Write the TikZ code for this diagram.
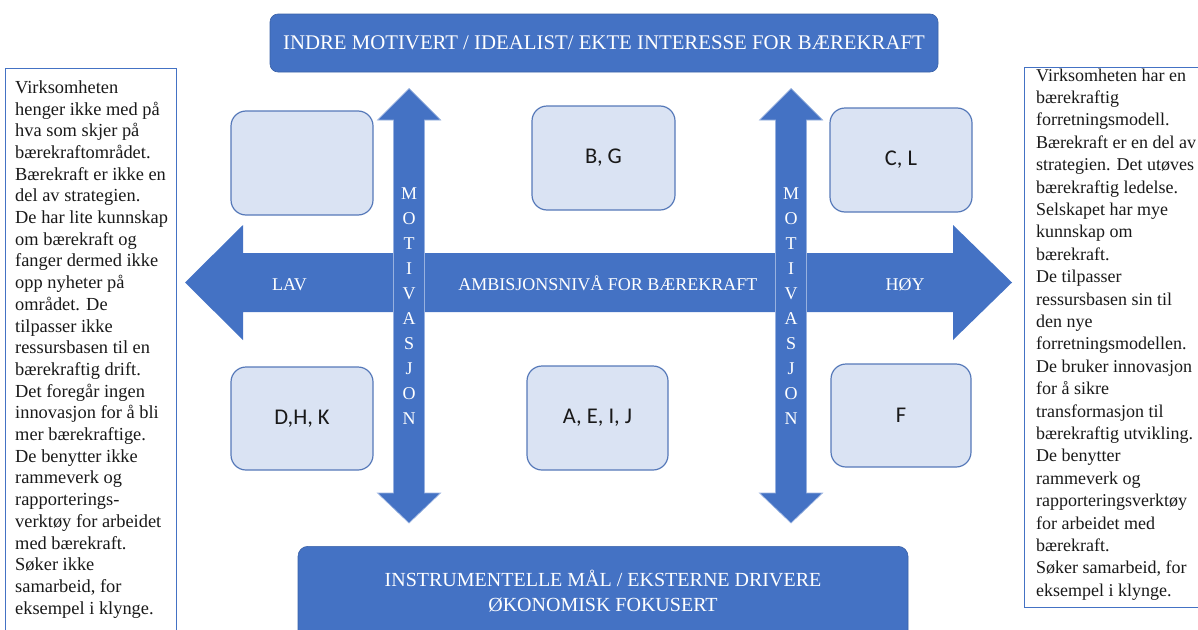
\documentclass[tikz,border=0pt]{standalone}
\usepackage{fontspec}
\setmainfont{Liberation Serif}
\newfontfamily\labelfont{Carlito}
\definecolor{accent}{HTML}{4472C4}
\definecolor{lightfill}{HTML}{DAE3F3}
\definecolor{boxline}{HTML}{5679B9}

\begin{document}
\begin{tikzpicture}[x=1pt,y=-1pt,
  banner/.style={fill=accent, draw=accent!85!black, line width=0.6pt, rounded corners=8pt, inner sep=0pt},
  bannertext/.style={text=white, inner sep=0pt, align=center},
  group/.style={fill=lightfill, draw=boxline, line width=1.2pt, rounded corners=15pt, inner sep=0pt,
    font=\labelfont\fontsize{22.5}{26}\selectfont, text=black!90},
  harrow/.style={fill=accent},
  varrow/.style={fill=accent, draw=accent!55!white, line width=0.7pt},
  axislabel/.style={text=white, font=\fontsize{18}{20}\selectfont, inner sep=0pt, anchor=base},
  vlabel/.style={text=white, font=\fontsize{18}{25}\selectfont, inner sep=0pt, align=center, anchor=north},
  notebox/.style={draw=accent, line width=0.9pt},
  notetext/.style={align=left, inner sep=0pt, anchor=north west, text=black!90}
]
\useasboundingbox (0,0) rectangle (1198,629);
\clip (0,0) rectangle (1198,629);

% side description boxes
\draw[notebox] (5,68) rectangle (176,640);
\draw[notebox] (1024,67) rectangle (1210,607);

\node[notetext, font=\fontsize{18.4}{21.7}\selectfont] (lowtext) at (15,80.4) {Virksomheten\\
henger ikke med på\\
hva som skjer på\\
bærekraftområdet.\\
Bærekraft er ikke en\\
del av strategien.\\
De har lite kunnskap\\
om bærekraft og\\
fanger dermed ikke\\
opp nyheter på\\
området. De\\
tilpasser ikke\\
ressursbasen til en\\
bærekraftig drift.\\
Det foregår ingen\\
innovasjon for å bli\\
mer bærekraftige.\\
De benytter ikke\\
rammeverk og\\
rapporterings-\\
verktøy for arbeidet\\
med bærekraft.\\
Søker ikke\\
samarbeid, for\\
eksempel i klynge.};

\node[notetext, font=\fontsize{18}{22.4}\selectfont] (hightext) at (1036,68.4) {Virksomheten har en\\
bærekraftig\\
forretningsmodell.\\
Bærekraft er en del av\\
strategien. Det utøves\\
bærekraftig ledelse.\\
Selskapet har mye\\
kunnskap om\\
bærekraft.\\
De tilpasser\\
ressursbasen sin til\\
den nye\\
forretningsmodellen.\\
De bruker innovasjon\\
for å sikre\\
transformasjon til\\
bærekraftig utvikling.\\
De benytter\\
rammeverk og\\
rapporteringsverktøy\\
for arbeidet med\\
bærekraft.\\
Søker samarbeid, for\\
eksempel i klynge.};

% top and bottom banners
\node[banner, minimum width=668pt, minimum height=58pt] (inner) at (604,43) {};
\node[bannertext, font=\fontsize{20.8}{24}\selectfont] (innerlabel) at (inner.center)
  {INDRE MOTIVERT / IDEALIST/ EKTE INTERESSE FOR BÆREKRAFT};

\node[banner, rounded corners=10pt, minimum width=610pt, minimum height=110pt, anchor=north] (outer) at (603,546) {};
\node[bannertext, font=\fontsize{20}{25}\selectfont] (outerlabel) at (603,591)
  {INSTRUMENTELLE MÅL / EKSTERNE DRIVERE\\ ØKONOMISK FOKUSERT};

% horizontal double arrow: ambition level
\fill[harrow] (185,282.5) -- (243,225) -- (243,253) -- (953,253) -- (953,225) -- (1012,282.5)
  -- (953,340) -- (953,312) -- (243,312) -- (243,340) -- cycle;
\node[axislabel] (low) at (289.5,290.5) {LAV};
\node[axislabel] (ambition) at (608,290.5) {AMBISJONSNIVÅ FOR BÆREKRAFT};
\node[axislabel] (high) at (905,290.5) {HØY};

% vertical double arrows: motivation
\foreach \cx/\nm in {409/left, 791/right}{
  \draw[varrow] (\cx,88.5) -- (\cx+31.5,120) -- (\cx+15.5,120) -- (\cx+15.5,493) -- (\cx+31.5,493)
    -- (\cx,523) -- (\cx-31.5,493) -- (\cx-15.5,493) -- (\cx-15.5,120) -- (\cx-31.5,120) -- cycle;
  \node[vlabel] (motiv-\nm) at (\cx,188) {M\\O\\T\\I\\V\\A\\S\\J\\O\\N};
}

% company groups
\node[group, minimum width=142pt, minimum height=104pt] (g-tl) at (302,163) {};
\node[group, minimum width=143pt, minimum height=104pt] (g-bg) at (603.5,158) {B, G};
\node[group, minimum width=142pt, minimum height=104pt] (g-cl) at (901,160) {C, L};
\node[group, minimum width=142pt, minimum height=103pt] (g-dhk) at (302,418.5) {D,H, K};
\node[group, minimum width=141pt, minimum height=104pt] (g-aeij) at (597.5,418) {A, E, I, J};
\node[group, minimum width=140pt, minimum height=103pt] (g-f) at (901,415.5) {F};
\end{tikzpicture}
\end{document}
